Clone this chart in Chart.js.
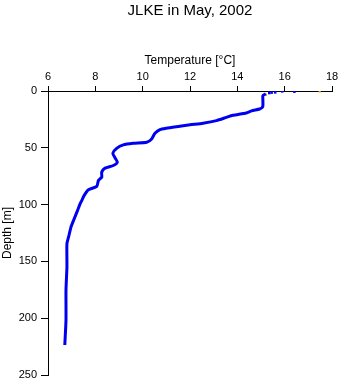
<!DOCTYPE html>
<html>
<head>
<meta charset="utf-8">
<script src="https://cdn.jsdelivr.net/npm/chart.js@4"></script>
<style>
  html, body { margin: 0; padding: 0; background: #fff; }
  #wrap { width: 341px; height: 384px; }
</style>
</head>
<body>
<div id="wrap"><canvas id="chart" width="341" height="384"></canvas></div>
<script>
// profile, shallow to deep
const profileTemp = [15.20, 15.08, 15.08, 15.08, 15.05, 14.94, 14.60, 14.38, 13.81, 13.54,
  13.12, 12.55, 12.00, 11.57, 11.00, 10.73, 10.52, 10.38, 10.17, 9.60,
  9.18, 8.90, 8.74, 8.83, 8.93, 8.76, 8.41, 8.27, 8.27, 8.13,
  8.06, 7.71, 7.53, 7.43, 7.36, 7.25, 7.08, 6.97, 6.87, 6.80,
  6.80, 6.76, 6.76, 6.71];
const profileDepth = [2.5, 4, 8, 13, 14.5, 15.8, 17.5, 19.3, 21.4, 23.2,
  26.1, 28.4, 29.8, 31.1, 32.8, 34, 37.2, 42.2, 45.1, 46,
  47.4, 50.5, 54.8, 58.8, 62.7, 65.6, 67.9, 71.4, 75.8, 78.8,
  84, 86.9, 91.9, 96.3, 99.2, 105.1, 113.9, 119.8, 128.5, 134.4,
  154.8, 175.3, 201.7, 223.6];

// loose surface readings
const surfaceTemp = [15.35, 15.45, 15.6, 15.9, 16.41];
const surfaceDepth = [1.8, 1.4, 1.2, 0.3, 0.6];

// orange marks
const markTemp = [15.2, 17.48];
const markDepth = [3.2, 0.3];

const xTicks = [6, 8, 10, 12, 14, 16, 18];
const yTicks = [0, 50, 100, 150, 200, 250];

const toPts = (xs, ys) => xs.map((x, i) => ({ x: x, y: ys[i] }));

Chart.defaults.font.family = '"Liberation Sans", Arial, sans-serif';
Chart.defaults.color = '#000';

new Chart(document.getElementById('chart'), {
  type: 'scatter',
  data: {
    datasets: [
      {
        data: toPts(profileTemp, profileDepth),
        showLine: true,
        borderColor: '#0000f0',
        borderWidth: 3,
        pointRadius: 0,
        tension: 0.2
      },
      {
        data: toPts(surfaceTemp, surfaceDepth),
        showLine: false,
        pointStyle: 'rect',
        pointRadius: 1.8,
        backgroundColor: '#0000f0',
        borderWidth: 0
      },
      {
        data: toPts(markTemp, markDepth),
        showLine: false,
        pointStyle: 'rect',
        pointRadius: 1.6,
        backgroundColor: '#f0a000',
        borderWidth: 0
      }
    ]
  },
  options: {
    responsive: false,
    animation: false,
    layout: { padding: { left: 0, right: 9, bottom: 9, top: 0 } },
    plugins: {
      legend: { display: false },
      tooltip: { enabled: false },
      title: {
        display: true,
        text: 'JLKE in May, 2002',
        fullSize: false,
        font: { size: 15, weight: 'normal' },
        padding: { top: 2, bottom: 0 }
      }
    },
    scales: {
      x: {
        type: 'linear',
        position: 'top',
        min: 6,
        max: 18,
        afterBuildTicks: (axis) => { axis.ticks = xTicks.map(v => ({ value: v })); },
        afterFit: (axis) => { axis.height = 71; },
        ticks: { font: { size: 11 }, padding: 2, maxRotation: 0 },
        grid: { drawOnChartArea: false, drawTicks: true, tickLength: 5, color: '#000' },
        border: { display: true, color: '#000', width: 1 },
        title: { display: true, text: 'Temperature [°C]', font: { size: 12 }, padding: { top: 33, bottom: 0 } }
      },
      y: {
        type: 'linear',
        reverse: true,
        min: 0,
        max: 250,
        afterBuildTicks: (axis) => { axis.ticks = yTicks.map(v => ({ value: v })); },
        afterFit: (axis) => {
          axis.width = 48;
          axis.paddingTop = 0;
          axis.paddingBottom = 0;
        },
        ticks: { font: { size: 11 }, padding: 4 },
        grid: { drawOnChartArea: false, drawTicks: true, tickLength: 7, color: '#000' },
        border: { display: true, color: '#000', width: 1 },
        title: { display: true, text: 'Depth [m]', font: { size: 12 }, padding: 0 }
      }
    }
  }
});
</script>
</body>
</html>
